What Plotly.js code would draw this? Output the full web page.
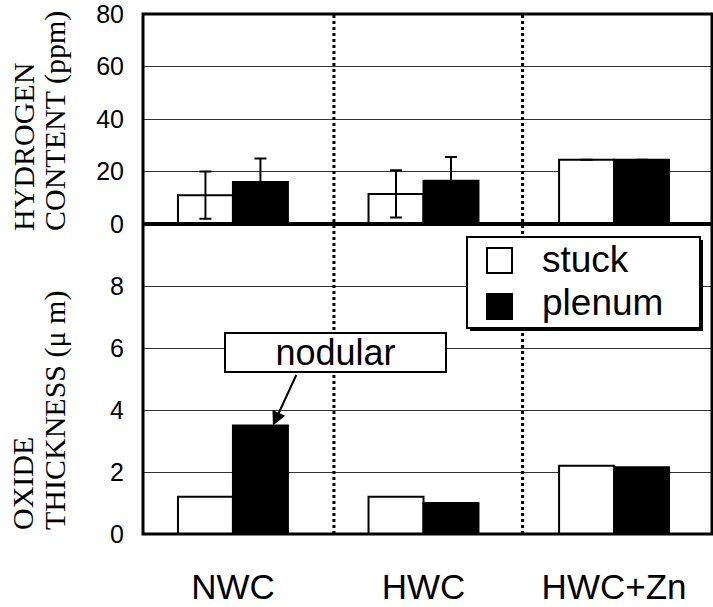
<!DOCTYPE html>
<html>
<head>
<meta charset="utf-8">
<script src="https://cdn.plot.ly/plotly-3.0.1.min.js"></script>
<style>
  html, body { margin: 0; padding: 0; background: #fff; }
  #chart { width: 713px; height: 607px; }
</style>
</head>
<body>
<div id="chart"></div>
<script>
// Cladding measurements by water chemistry
const categories = ['NWC', 'HWC', 'HWC+Zn'];
const seriesNames = ['stuck', 'plenum'];

// Hydrogen content (ppm), with scatter bands
const hydrogenStuck = [11, 11.5, 24.5];
const hydrogenPlenum = [16, 16.5, 24.5];
const hydrogenStuckErr = [9, 9, null];
const hydrogenPlenumErr = [9, 9, null];

// Oxide thickness (μm)
const oxideStuck = [1.2, 1.2, 2.2];
const oxidePlenum = [3.5, 1.0, 2.15];

// Axis ticks
const hydrogenTicks = [0, 20, 40, 60, 80];
const oxideTicks = [0, 2, 4, 6, 8];

const SANS = 'Liberation Sans, Arial, sans-serif';
const SERIF = 'Liberation Serif, Times New Roman, serif';

function barStyle(i) {
  return {
    color: i === 0 ? '#ffffff' : '#000000',
    line: { color: '#000000', width: 2 }
  };
}

const traces = [
  {
    type: 'bar', name: seriesNames[0], x: categories, y: hydrogenStuck,
    xaxis: 'x', yaxis: 'y2', marker: barStyle(0), showlegend: false,
    error_y: { type: 'data', array: hydrogenStuckErr, visible: true,
               color: '#000', thickness: 2, width: 6 }
  },
  {
    type: 'bar', name: seriesNames[1], x: categories, y: hydrogenPlenum,
    xaxis: 'x', yaxis: 'y2', marker: barStyle(1), showlegend: false,
    error_y: { type: 'data', array: hydrogenPlenumErr, visible: true,
               color: '#000', thickness: 2, width: 6 }
  },
  {
    type: 'bar', name: seriesNames[0], x: categories, y: oxideStuck,
    xaxis: 'x', yaxis: 'y', marker: barStyle(0), showlegend: false
  },
  {
    type: 'bar', name: seriesNames[1], x: categories, y: oxidePlenum,
    xaxis: 'x', yaxis: 'y', marker: barStyle(1), showlegend: false
  }
];

// Paper-coordinate helpers for the frame (plot area 143..712 x 14..534 px)
const L = 143, R = 712, T = 14, B = 534;
const px = v => (v - L) / (R - L);
const py = v => (B - v) / (B - T);

const shapes = [
  // group separators
  { type: 'line', xref: 'x', yref: 'paper', x0: 0.53, x1: 0.53, y0: 0, y1: 1,
    line: { color: '#000', width: 3, dash: 'dot' } },
  { type: 'line', xref: 'x', yref: 'paper', x0: 1.52, x1: 1.52, y0: 0, y1: 1,
    line: { color: '#000', width: 3, dash: 'dot' } },
  // outer frame and the panel divider
  { type: 'rect', xref: 'paper', yref: 'paper', x0: 0, x1: 1, y0: 0, y1: 1,
    line: { color: '#000', width: 3 } },
  { type: 'line', xref: 'paper', yref: 'paper', x0: 0, x1: 1, y0: 0.596, y1: 0.596,
    line: { color: '#000', width: 4 } },
  // legend box with drop shadow
  { type: 'rect', xref: 'paper', yref: 'paper',
    x0: px(470), x1: px(703), y0: py(331), y1: py(240),
    fillcolor: '#000', line: { width: 0 } },
  { type: 'rect', xref: 'paper', yref: 'paper',
    x0: px(467), x1: px(700), y0: py(328), y1: py(237),
    fillcolor: '#fff', line: { color: '#000', width: 2 } },
  { type: 'rect', xref: 'paper', yref: 'paper',
    x0: px(487), x1: px(512), y0: py(273), y1: py(248),
    fillcolor: '#fff', line: { color: '#000', width: 2 } },
  { type: 'rect', xref: 'paper', yref: 'paper',
    x0: px(487), x1: px(512), y0: py(319), y1: py(294),
    fillcolor: '#000', line: { color: '#000', width: 2 } }
];

const annotations = [
  // legend labels
  { xref: 'paper', yref: 'paper', x: px(540), y: py(259), xanchor: 'left', yanchor: 'middle',
    text: seriesNames[0], showarrow: false, font: { family: SANS, size: 37, color: '#000' } },
  { xref: 'paper', yref: 'paper', x: px(540), y: py(302), xanchor: 'left', yanchor: 'middle',
    text: seriesNames[1], showarrow: false, font: { family: SANS, size: 37, color: '#000' } },
  // callout box
  { xref: 'x', yref: 'y', x: 0.538, y: 5.87, xanchor: 'center', yanchor: 'middle',
    text: 'nodular', showarrow: false, width: 217, height: 35,
    bgcolor: '#fff', bordercolor: '#000', borderwidth: 2, borderpad: 1,
    font: { family: SANS, size: 36, color: '#000' } },
  // callout arrow to the plenum bar
  { xref: 'x', yref: 'y', x: 0.21, y: oxidePlenum[0], text: '', showarrow: true,
    ax: 24, ay: -52, arrowhead: 2, arrowsize: 1.4, arrowwidth: 2, arrowcolor: '#000',
    standoff: 0 },
  // y-axis titles
  { xref: 'paper', yref: 'paper', x: px(23), y: py(147), xanchor: 'center', yanchor: 'middle',
    text: 'HYDROGEN', textangle: -90, showarrow: false,
    font: { family: SERIF, size: 30, color: '#000' } },
  { xref: 'paper', yref: 'paper', x: px(55), y: py(121), xanchor: 'center', yanchor: 'middle',
    text: 'CONTENT (ppm)', textangle: -90, showarrow: false,
    font: { family: SERIF, size: 30, color: '#000' } },
  { xref: 'paper', yref: 'paper', x: px(22), y: py(484), xanchor: 'center', yanchor: 'middle',
    text: 'OXIDE', textangle: -90, showarrow: false,
    font: { family: SERIF, size: 30, color: '#000' } },
  { xref: 'paper', yref: 'paper', x: px(55), y: py(411), xanchor: 'center', yanchor: 'middle',
    text: 'THICKNESS (\u03bc m)', textangle: -90, showarrow: false,
    font: { family: SERIF, size: 30, color: '#000' } }
];

const layout = {
  width: 713, height: 607,
  margin: { l: L, r: 713 - R, t: T, b: 607 - B, pad: 0 },
  paper_bgcolor: '#fff', plot_bgcolor: '#fff',
  barmode: 'group', bargap: 0.423, bargroupgap: 0,
  showlegend: false,
  xaxis: {
    type: 'category', range: [-0.472, 2.514], anchor: 'y',
    showgrid: false, zeroline: false, showline: false,
    ticks: 'outside', ticklen: 22, tickcolor: 'rgba(0,0,0,0)',
    tickfont: { family: SANS, size: 35, color: '#000' }
  },
  yaxis: {
    domain: [0, 0.596], range: [0, 10], tickvals: oxideTicks,
    showgrid: true, gridcolor: '#333', gridwidth: 1, zeroline: false, showline: false,
    ticks: 'outside', ticklen: 13, tickcolor: 'rgba(0,0,0,0)',
    ticklabeloverflow: 'allow',
    tickfont: { family: SANS, size: 25, color: '#000' }
  },
  yaxis2: {
    domain: [0.596, 1], range: [0, 80], tickvals: hydrogenTicks, anchor: 'x',
    showgrid: true, gridcolor: '#333', gridwidth: 1, zeroline: false, showline: false,
    ticks: 'outside', ticklen: 13, tickcolor: 'rgba(0,0,0,0)',
    ticklabeloverflow: 'allow',
    tickfont: { family: SANS, size: 25, color: '#000' }
  },
  shapes: shapes,
  annotations: annotations
};

Plotly.newPlot('chart', traces, layout, { staticPlot: true, displayModeBar: false });
</script>
</body>
</html>
